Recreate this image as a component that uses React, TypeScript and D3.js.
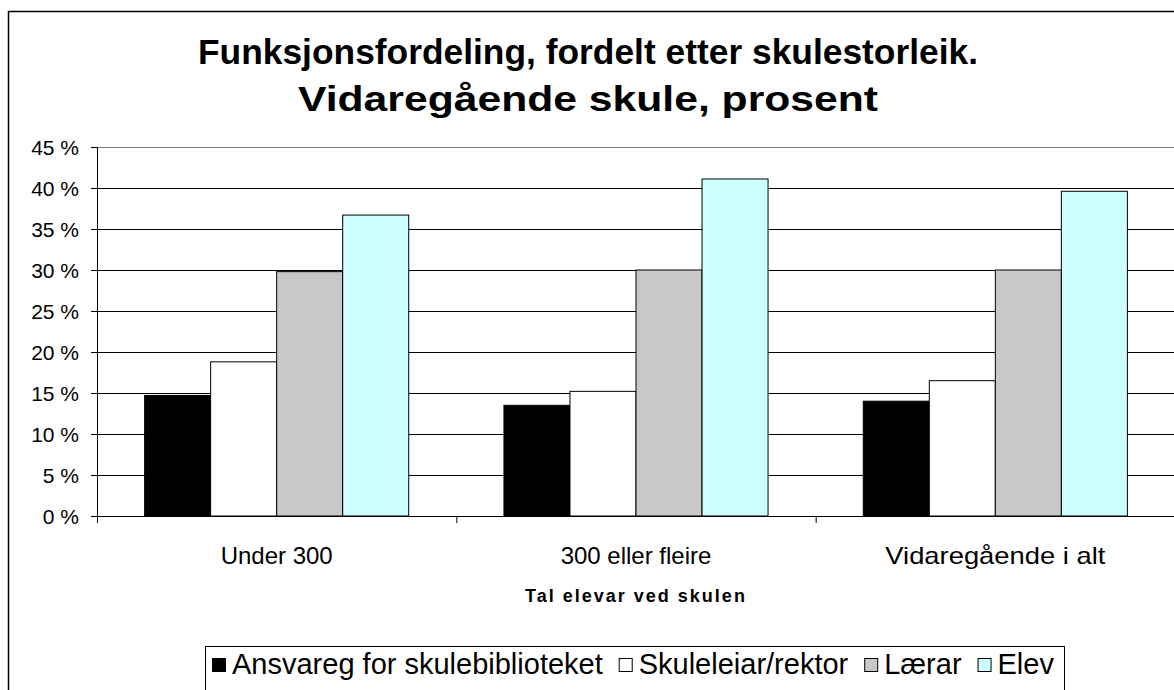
import React from "react";
import * as d3 from "d3";

const categories = ["Under 300", "300 eller fleire", "Vidaregående i alt"];
const seriesNames = ["Ansvareg for skulebiblioteket", "Skuleleiar/rektor", "Lærar", "Elev"];
const ansvareg = [14.7, 13.5, 14.0];
const skuleleiar = [18.8, 15.2, 16.5];
const laerar = [29.8, 30.0, 30.0];
const elev = [36.7, 41.1, 39.6];
const yTicks = [0, 5, 10, 15, 20, 25, 30, 35, 40, 45];
const titleLines = ["Funksjonsfordeling, fordelt etter skulestorleik.", "Vidaregående skule, prosent"];
const xTitle = "Tal elevar ved skulen";

const seriesValues = [ansvareg, skuleleiar, laerar, elev];
const colors = ["#000000", "#FFFFFF", "#C8C8C8", "#CCFFFF"];

export default function App() {
  const W = 1174, H = 690;
  const left = 97, right = 1175, top = 147, bottom = 516;
  const x = d3.scaleBand<string>().domain(categories).range([left, right]).paddingInner(0).paddingOuter(0);
  const groupW = x.bandwidth() * 0.735;
  const xs = d3.scaleBand<string>().domain(seriesNames).range([0, groupW]).padding(0);
  const y = d3.scaleLinear().domain([0, 45]).range([bottom, top]);
  const font = "'Liberation Sans', Arial, sans-serif";

  const legendFont = 29;
  const emW = [12.783, 7.224, 2.667, 1.945];
  let cx = 212;
  const legendPos = emW.map((w) => {
    const p = { sx: cx, tx: cx + 20 };
    cx = p.tx + w * legendFont + 16;
    return p;
  });

  const titleLen = [780, 580];
  const catLen: Record<string, number | undefined> = { "Vidaregående i alt": 220 };

  return (
    <svg width={W} height={H} style={{ position: "absolute", left: 0, top: 0, background: "#fff" }} fontFamily={font}>
      <rect x={8.5} y={11.5} width={1200} height={800} fill="#fff" stroke="#000" strokeWidth={1.5} />
      {titleLines.map((t, i) => (
        <text key={i} x={588} y={64 + i * 47} textAnchor="middle" fontWeight="bold" fontSize={35} fill="#000"
          textLength={titleLen[i]} lengthAdjust="spacingAndGlyphs">
          {t}
        </text>
      ))}
      {yTicks.map((t) => (
        <line key={t} x1={left} x2={right} y1={y(t) + 0.5} y2={y(t) + 0.5} stroke={t === 45 ? "#808080" : "#000"} strokeWidth={1} />
      ))}
      {categories.map((c, ci) =>
        seriesValues.map((vals, si) => {
          const bx = (x(c) as number) + (x.bandwidth() - groupW) / 2 + (xs(seriesNames[si]) as number);
          return (
            <rect key={c + si} x={bx} y={y(vals[ci])} width={xs.bandwidth()} height={bottom - y(vals[ci])} fill={colors[si]} stroke="#000" strokeWidth={1} />
          );
        })
      )}
      <line x1={left + 0.5} x2={left + 0.5} y1={top} y2={bottom + 7} stroke="#000" />
      {yTicks.map((t) => (
        <g key={t}>
          <line x1={left - 6} x2={left} y1={y(t) + 0.5} y2={y(t) + 0.5} stroke="#000" />
          <text x={79} y={y(t) + 7.5} textAnchor="end" fontSize={21} fill="#000">
            {t} %
          </text>
        </g>
      ))}
      <line x1={left} x2={right} y1={bottom + 0.5} y2={bottom + 0.5} stroke="#000" />
      {categories.slice(1).map((c) => (
        <line key={c} x1={(x(c) as number) + 0.5} x2={(x(c) as number) + 0.5} y1={bottom} y2={bottom + 7} stroke="#000" />
      ))}
      {categories.map((c) => (
        <text key={c} x={(x(c) as number) + x.bandwidth() / 2} y={564} textAnchor="middle" fontSize={24} fill="#000"
          textLength={catLen[c]} lengthAdjust={catLen[c] ? "spacingAndGlyphs" : undefined}>
          {c}
        </text>
      ))}
      <text x={636} y={602} textAnchor="middle" fontWeight="bold" fontSize={18} letterSpacing={2} fill="#000">
        {xTitle}
      </text>
      <rect x={205.5} y={646.5} width={859} height={60} fill="#fff" stroke="#000" strokeWidth={1} />
      {seriesNames.map((n, i) => (
        <g key={n}>
          <rect x={legendPos[i].sx + 0.5} y={658.5} width={13} height={13} fill={colors[i]} stroke="#000" strokeWidth={1} />
          <text x={legendPos[i].tx} y={674} fontSize={legendFont} fill="#000">
            {n}
          </text>
        </g>
      ))}
    </svg>
  );
}
